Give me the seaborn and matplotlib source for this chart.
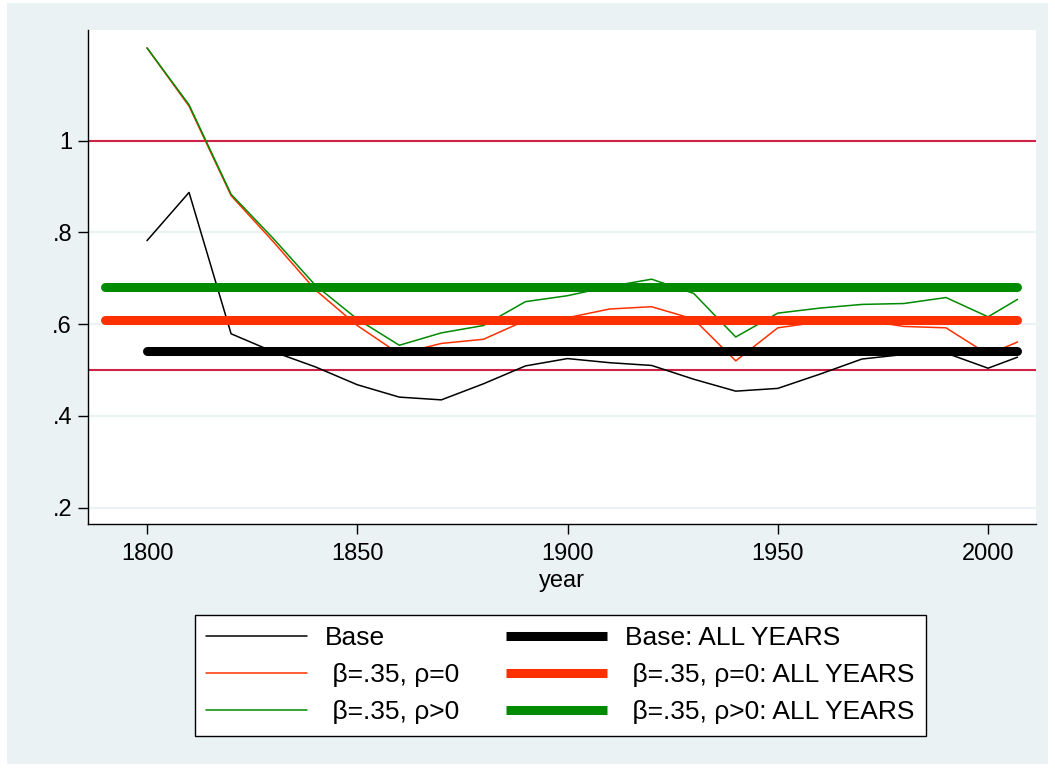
import numpy as np
import pandas as pd
import matplotlib
matplotlib.use("Agg")
import matplotlib.pyplot as plt
import matplotlib.lines as mlines
from matplotlib.patches import Rectangle
import seaborn as sns

# ---------------- data ----------------
years = [1800, 1810, 1820, 1830, 1840, 1850, 1860, 1870, 1880, 1890, 1900,
         1910, 1920, 1930, 1940, 1950, 1960, 1970, 1980, 1990, 2000, 2007]
base = [0.782, 0.887, 0.579, 0.540, 0.507, 0.468, 0.441, 0.435, 0.470, 0.509, 0.525,
        0.516, 0.510, 0.480, 0.454, 0.460, 0.491, 0.524, 0.534, 0.537, 0.504, 0.528]
rho0 = [1.202, 1.075, 0.880, 0.780, 0.675, 0.597, 0.535, 0.558, 0.567, 0.608, 0.614,
        0.633, 0.638, 0.611, 0.520, 0.592, 0.605, 0.609, 0.595, 0.592, 0.534, 0.561]
rhopos = [1.202, 1.078, 0.883, 0.787, 0.685, 0.611, 0.554, 0.581, 0.597, 0.649, 0.662,
          0.682, 0.698, 0.667, 0.572, 0.624, 0.635, 0.643, 0.645, 0.658, 0.616, 0.654]

series_labels = ["Base", " \u03b2=.35, \u03c1=0", " \u03b2=.35, \u03c1>0"]
all_labels = ["Base: ALL YEARS", " \u03b2=.35, \u03c1=0: ALL YEARS", " \u03b2=.35, \u03c1>0: ALL YEARS"]
all_values = [0.542, 0.608, 0.682]
all_start = [1800, 1790, 1790]
all_end = [2007, 2007, 2007]

ref_values = [1.0, 0.5]
xticks = [1800, 1850, 1900, 1950, 2000]
yticks = [0.2, 0.4, 0.6, 0.8, 1.0]
ytick_labels = [".2", ".4", ".6", ".8", "1"]

colors = ["black", "#FF3000", "#008a00"]
ref_color = "#CF2346"
bg = "#EAF2F3"

# ---------------- style ----------------
sns.set_theme(style="white")
plt.rcParams["font.family"] = ["Liberation Sans", "DejaVu Sans"]

fig = plt.figure(figsize=(10.55, 7.68), dpi=100)
fig.patch.set_facecolor("white")
fig.patches.append(Rectangle((7 / 1055, 4 / 768), (1048 - 7) / 1055, (765 - 4) / 768,
                             transform=fig.transFigure, facecolor=bg,
                             edgecolor="none", zorder=-10))
ax = fig.add_axes([88 / 1055, 1 - 524 / 768, (1036 - 88) / 1055, (524 - 30) / 768])
ax.set_facecolor("white")

# gridlines
ax.set_axisbelow(True)
ax.yaxis.grid(True, color=bg, lw=1.6)
ax.xaxis.grid(False)

for v in ref_values:
    ax.axhline(v, color=ref_color, lw=1.5, zorder=1.5)

thin_series = [base, rho0, rhopos]
for vals, c in zip(thin_series, colors):
    df = pd.DataFrame({"year": years, "value": vals})
    sns.lineplot(data=df, x="year", y="value", color=c, lw=1.1, ax=ax,
                 legend=False, zorder=3)

for v, s, e, c in zip(all_values, all_start, all_end, colors):
    df = pd.DataFrame({"year": [s, e], "value": [v, v]})
    sns.lineplot(data=df, x="year", y="value", color=c, lw=6.5, ax=ax,
                 legend=False, zorder=4, solid_capstyle="round")

ax.set_xlim(1785.97, 2011.4)
ax.set_ylim(0.1645, 1.241)
ax.set_xticks(xticks)
ax.set_yticks(yticks)
ax.set_yticklabels(ytick_labels)

for side in ["top", "right"]:
    ax.spines[side].set_visible(False)
for side in ["left", "bottom"]:
    ax.spines[side].set_color("black")
    ax.spines[side].set_linewidth(1.0)

ax.tick_params(axis="both", which="major", bottom=True, left=True, direction="out",
               length=7.5, width=1.0, color="black", labelcolor="black",
               labelsize=17)
ax.tick_params(axis="x", pad=6)
ax.tick_params(axis="y", pad=4)
ax.set_xlabel("year", fontsize=17, color="black", labelpad=4)
ax.set_ylabel("")

h_thin = [mlines.Line2D([], [], color=c, lw=1.1) for c in colors]
h_thick = [mlines.Line2D([], [], color=c, lw=6.5, solid_capstyle="butt") for c in colors]
leg = ax.legend(h_thin + h_thick, series_labels + all_labels, ncol=2,
                loc="center", bbox_to_anchor=(0.531, 0.121),
                bbox_transform=fig.transFigure, fontsize=19, frameon=True,
                fancybox=False, edgecolor="black", facecolor="white", framealpha=1,
                handlelength=3.8, handletextpad=0.68, columnspacing=1.8,
                labelspacing=0.48, borderpad=0.45)
leg.get_frame().set_linewidth(1.0)
for t in leg.get_texts():
    t.set_color("black")

fig.savefig("out.png", dpi=100, facecolor=fig.get_facecolor())
